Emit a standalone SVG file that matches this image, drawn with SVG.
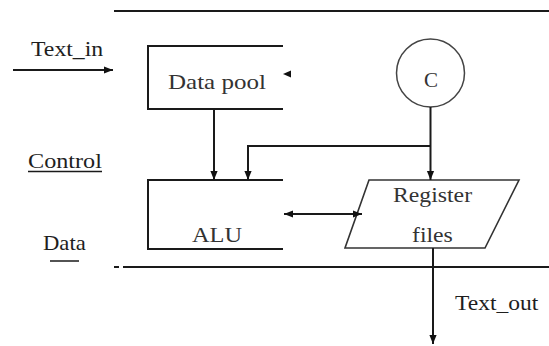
<svg xmlns="http://www.w3.org/2000/svg" width="549" height="346" viewBox="0 0 549 346">
  <defs>
    <marker id="arr" viewBox="0 0 10 10" refX="10" refY="5" markerWidth="9" markerHeight="9" markerUnits="userSpaceOnUse" orient="auto-start-reverse">
      <path d="M0,1 L10,5 L0,9 Z" fill="#111"/>
    </marker>
  </defs>
  <style>
    .ln { fill: none; stroke: #1a1a1a; stroke-width: 2; }
    .box { fill: none; stroke: #1a1a1a; stroke-width: 2; }
    .txt { font-family: "Liberation Serif", "Times New Roman", serif; font-size: 22px; fill: #1e1e1e; }
    .lbl { font-family: "Liberation Serif", "Times New Roman", serif; font-size: 21px; fill: #333333; }
  </style>
  <rect width="549" height="346" fill="#ffffff"/>

  <!-- Bus boundaries -->
  <g id="bus-lines">
    <line class="ln" x1="114" y1="11" x2="549" y2="11"/>
    <line class="ln" x1="114" y1="267" x2="119" y2="267"/>
    <line class="ln" x1="123" y1="267" x2="549" y2="267"/>
  </g>

  <!-- Side labels (slightly widened serif) -->
  <g id="labels">
    <text class="txt" transform="translate(31,56) scale(1.08,1)">Text_in</text>
    <text class="txt" transform="translate(28,168) scale(1.1,1)">Control</text>
    <line x1="28" y1="171.5" x2="102" y2="171.5" stroke="#1a1a1a" stroke-width="1.5"/>
    <text class="txt" transform="translate(43,250) scale(1.03,1)">Data</text>
    <line x1="50" y1="261" x2="79" y2="261" stroke="#1a1a1a" stroke-width="1.5"/>
    <text class="txt" transform="translate(455,310) scale(1.07,1)">Text_out</text>
  </g>

  <!-- Data pool -->
  <g id="data-pool">
    <path class="box" d="M283,46 H148 V109 H283"/>
    <text class="lbl" transform="translate(168,89) scale(1.19,1)">Data pool</text>
    <path d="M283,74 L291,70.5 L291,77.5 Z" fill="#111"/>
  </g>

  <!-- Control unit -->
  <g id="control">
    <circle cx="430.5" cy="73" r="34" fill="none" stroke="#444" stroke-width="1.5"/>
    <text class="lbl" x="431" y="87" text-anchor="middle" font-size="20" fill="#555">C</text>
  </g>

  <!-- ALU -->
  <g id="alu">
    <path class="box" d="M283,180 H148 V249 H283"/>
    <text class="lbl" transform="translate(192,242) scale(1.16,1)">ALU</text>
  </g>

  <!-- Register files -->
  <g id="register-files">
    <polygon points="369,180 519,180 485,248 345,248" fill="none" stroke="#333" stroke-width="1.6"/>
    <text class="lbl" transform="translate(393,202) scale(1.13,1)">Register</text>
    <text class="lbl" transform="translate(412,242) scale(1.13,1)">files</text>
  </g>

  <!-- Connectors -->
  <g id="connectors">
    <line class="ln" x1="13" y1="70" x2="113" y2="70" marker-end="url(#arr)"/>
    <line class="ln" x1="214" y1="109" x2="214" y2="180" marker-end="url(#arr)"/>
    <line class="ln" x1="430.5" y1="107" x2="430.5" y2="180" marker-end="url(#arr)"/>
    <path class="ln" d="M430.5,146 H248 V180" marker-end="url(#arr)"/>
    <line class="ln" x1="284" y1="214" x2="362" y2="214" marker-start="url(#arr)" marker-end="url(#arr)"/>
    <line class="ln" x1="433" y1="248" x2="433" y2="344" marker-end="url(#arr)"/>
  </g>
</svg>
